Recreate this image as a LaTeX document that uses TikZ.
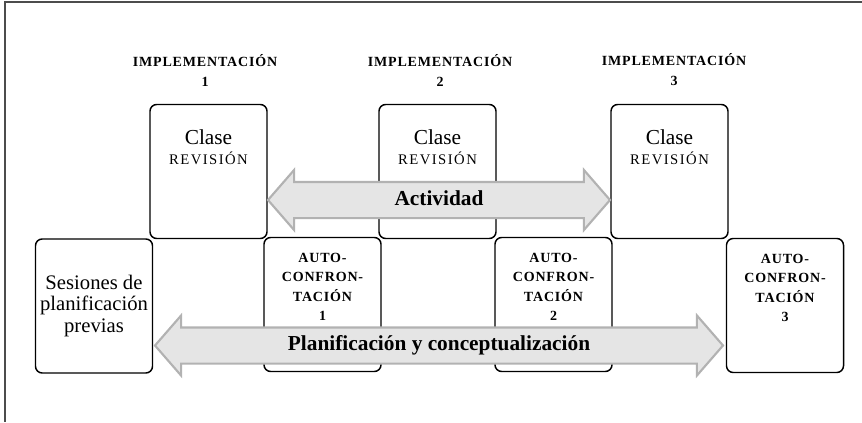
\documentclass[tikz,border=0pt]{standalone}
\usepackage{fontspec}
\setmainfont{Liberation Serif}
\newfontfamily\capsfont[LetterSpace=6]{Liberation Serif}
\newfontfamily\capsrev[LetterSpace=10]{Liberation Serif}
\usetikzlibrary{shapes.arrows}

\tikzset{every picture/.style={line width=0.75pt}}
\tikzset{
  caja/.style={draw, rounded corners=5pt, line width=1.1pt, inner sep=0pt,
    minimum width=87.75pt, minimum height=100.5pt},
  flecha/.style={double arrow, draw=gray!60, fill=gray!20, line width=1.6pt,
    double arrow head extend=9pt, double arrow tip angle=98, inner ysep=5.5pt,
    text height=11pt, text depth=3.5pt, font=\fontsize{16}{17}\selectfont\bfseries},
  rotulo/.style={align=center, font=\bfseries\capsfont\fontsize{10.5}{15}\selectfont},
}
\newcommand{\versal}[1]{{\capsrev\fontsize{11}{14.6}\selectfont #1}}
\newcommand{\arriba}[2]{\parbox[c][100.5pt][t]{87.75pt}{\centering\vspace*{#1}#2}}

\begin{document}
\begin{tikzpicture}[x=0.75pt,y=0.75pt,yscale=-1,xscale=1]
	\useasboundingbox (0,0) rectangle (862,422);

	%Frame
	\draw [line width=1.5pt, color=black!70] (862,2) -- (5,2) -- (5,422) ;

	% Text Node
	\node [rotulo] (impl1) at (205,70) {IMPLEMENTACIÓN\\1};
	% Text Node
	\node [rotulo] (impl2) at (440,70) {IMPLEMENTACIÓN\\2};
	% Text Node
	\node [rotulo] (impl3) at (674,70) {IMPLEMENTACIÓN\\3};

	%Shape: Rounded Rect
	\node [caja] (clase1) at (208.5,171.5) {\arriba{19pt}{\fontsize{16}{15}\selectfont Clase\\\versal{REVISIÓN}}};
	%Shape: Rounded Rect
	\node [caja] (clase2) at (437.5,171.5) {\arriba{19pt}{\fontsize{16}{15}\selectfont Clase\\\versal{REVISIÓN}}};
	%Shape: Rounded Rect
	\node [caja] (clase3) at (669.5,171.5) {\arriba{19pt}{\fontsize{16}{15}\selectfont Clase\\\versal{REVISIÓN}}};

	%Shape: Rounded Rect
	\node [caja, align=center, font=\fontsize{15.5}{16}\selectfont] (previas) at (94,306) {Sesiones de\\planificación\\previas};
	%Shape: Rounded Rect
	\node [caja] (auto1) at (322.5,304.5) {\arriba{11.5pt}{\bfseries\capsfont\fontsize{10.5}{14.6}\selectfont AUTO-\\CONFRON-\\TACIÓN\\1}};
	%Shape: Rounded Rect
	\node [caja] (auto2) at (553.5,304.5) {\arriba{11.5pt}{\bfseries\capsfont\fontsize{10.5}{14.6}\selectfont AUTO-\\CONFRON-\\TACIÓN\\2}};
	%Shape: Rounded Rect
	\node [caja] (auto3) at (785,305.5) {\arriba{11.5pt}{\bfseries\capsfont\fontsize{10.5}{14.6}\selectfont AUTO-\\CONFRON-\\TACIÓN\\3}};

	%Double Arrow
	\node [flecha, minimum height=256.5pt, minimum width=43.5pt] (actividad) at (439,200) {Actividad};
	%Double Arrow
	\node [flecha, minimum height=426pt, minimum width=43.5pt] (planif) at (439,345.5) {Planificación y conceptualización};

\end{tikzpicture}
\end{document}
